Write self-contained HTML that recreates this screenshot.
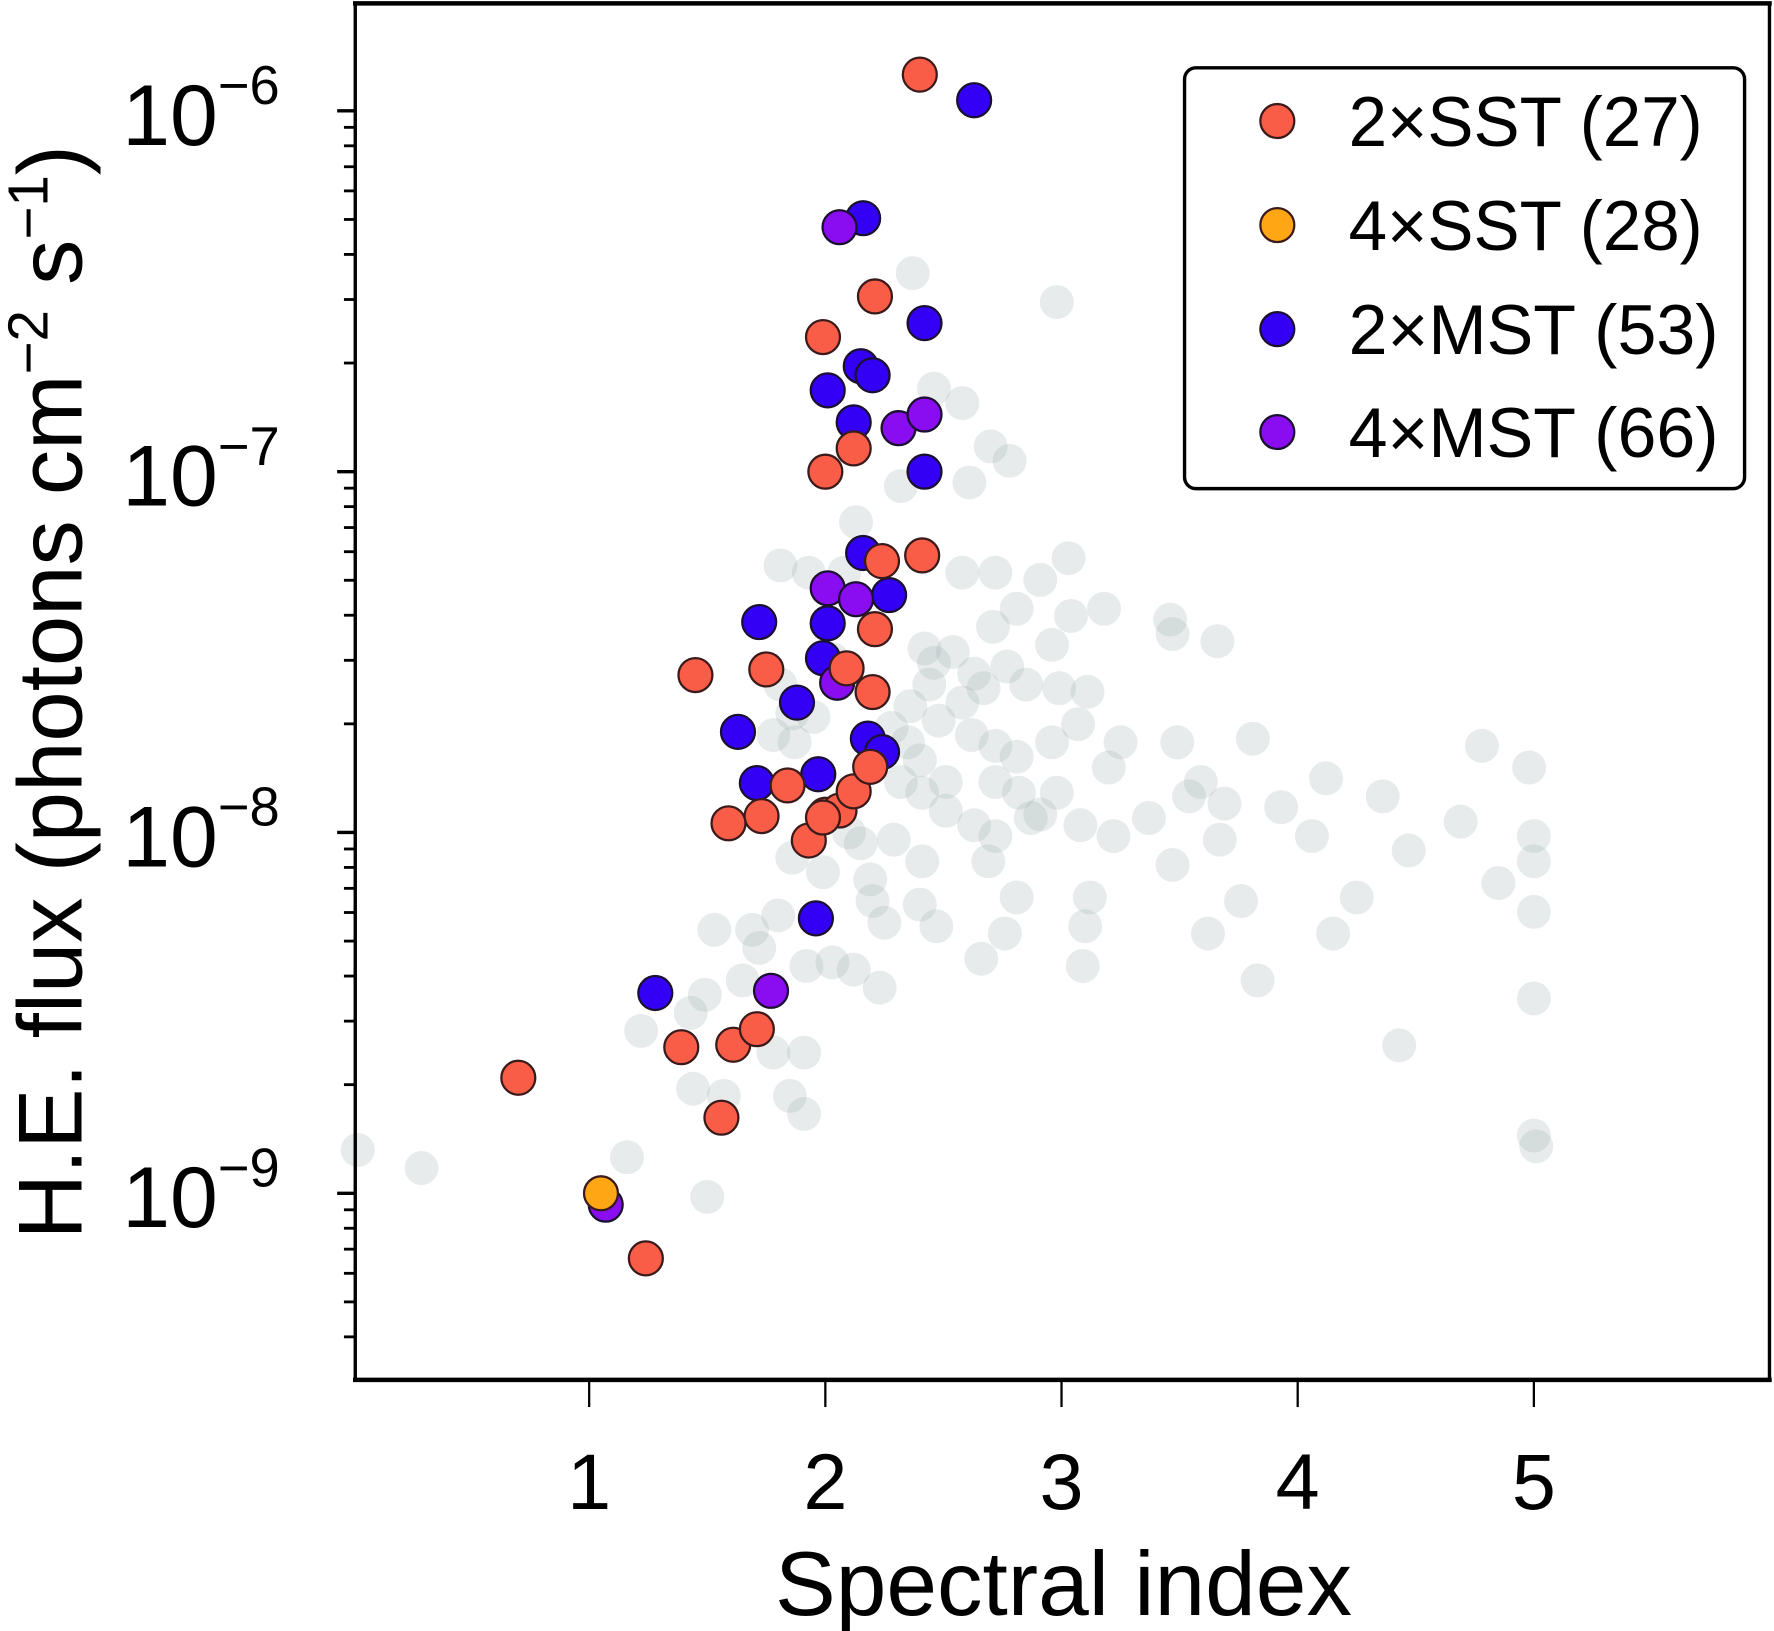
<!DOCTYPE html>
<html><head><meta charset="utf-8"><style>
html,body{margin:0;padding:0;background:#fff}
svg{display:block}
text{font-family:"Liberation Sans",Arial,sans-serif;fill:#000}
</style></head><body>
<svg id="chart" width="1774" height="1631" viewBox="0 0 1568 1442" preserveAspectRatio="none" xmlns="http://www.w3.org/2000/svg">
<g id="gray"></g>
<g id="marks"></g>
<g id="axes"></g>
<g>
<rect x="1047" y="60" width="495" height="372" rx="10" fill="#fff" stroke="#000" stroke-width="3"/>
<g><circle cx="1129" cy="107" r="15" fill="#f95d47" stroke="#3a1a1a" stroke-width="2"/><text x="1192" y="129" font-size="62" textLength="313" lengthAdjust="spacingAndGlyphs">2×SST (27)</text></g>
<g><circle cx="1129" cy="199" r="15" fill="#ffa614" stroke="#3a1a1a" stroke-width="2"/><text x="1192" y="221" font-size="62" textLength="313" lengthAdjust="spacingAndGlyphs">4×SST (28)</text></g>
<g><circle cx="1129" cy="291" r="15" fill="#3300f5" stroke="#1a1030" stroke-width="2"/><text x="1192" y="313" font-size="62" textLength="327" lengthAdjust="spacingAndGlyphs">2×MST (53)</text></g>
<g><circle cx="1129" cy="382" r="15" fill="#8a0cf0" stroke="#1a1030" stroke-width="2"/><text x="1192" y="404" font-size="62" textLength="327" lengthAdjust="spacingAndGlyphs">4×MST (66)</text></g>
</g>
<text x="940" y="1428" font-size="80" text-anchor="middle" textLength="510" lengthAdjust="spacingAndGlyphs">Spectral index</text>
<text transform="translate(72,612) rotate(-90)" font-size="80" text-anchor="middle">H.E. flux (photons cm<tspan font-size="50" dy="-30">−2</tspan><tspan dy="30"> s</tspan><tspan font-size="50" dy="-30">−1</tspan><tspan dy="30">)</tspan></text>
</svg>
<script>
const xTicks=[1,2,3,4,5];
const yDecades=[-6,-7,-8,-9];
const sst2Index=[2.40,2.21,1.99,2.12,2.00,2.41,2.24,2.21,2.20,2.09,1.75,1.45,1.84,1.73,1.59,1.93,2.00,2.06,2.12,2.19,0.70,1.39,1.61,1.71,1.56,1.24,1.99];
const sst2Flux=[1.26e-6,3.06e-7,2.36e-7,1.16e-7,1.0e-7,5.86e-8,5.65e-8,3.66e-8,2.45e-8,2.85e-8,2.83e-8,2.73e-8,1.35e-8,1.11e-8,1.06e-8,9.5e-9,1.12e-8,1.15e-8,1.30e-8,1.52e-8,2.09e-9,2.54e-9,2.58e-9,2.85e-9,1.62e-9,6.6e-10,1.10e-8];
const sst4Index=[1.05];
const sst4Flux=[1.0e-9];
const mst2Index=[2.63,2.16,2.42,2.15,2.20,2.01,2.12,2.42,2.16,2.27,1.72,2.01,1.99,1.88,1.63,2.18,2.24,1.71,1.97,1.96,1.28];
const mst2Flux=[1.07e-6,5.04e-7,2.58e-7,1.96e-7,1.85e-7,1.68e-7,1.37e-7,1.0e-7,5.95e-8,4.55e-8,3.83e-8,3.80e-8,3.04e-8,2.29e-8,1.90e-8,1.82e-8,1.67e-8,1.37e-8,1.45e-8,5.78e-9,3.59e-9];
const mst4Index=[2.06,2.31,2.42,2.01,2.13,2.05,1.77,1.07];
const mst4Flux=[4.76e-7,1.32e-7,1.44e-7,4.75e-8,4.43e-8,2.6e-8,3.64e-9,9.3e-10];
const grayIndex=[2.37,2.98,2.46,2.58,2.70,2.78,2.61,2.32,2.13,1.93,2.08,2.58,2.72,2.91,3.03,3.18,3.46,3.47,3.66,3.04,2.81,2.71,2.96,2.42,2.54,2.63,2.77,2.85,2.99,3.11,2.44,2.36,2.48,2.62,2.72,2.81,2.96,3.07,3.25,3.20,3.49,3.59,3.69,3.81,3.54,3.37,3.67,3.93,4.06,4.12,4.36,4.47,4.69,4.78,4.98,5.00,5.00,4.85,4.25,4.15,3.76,3.62,3.83,3.47,3.22,3.08,2.98,2.87,2.72,2.63,2.51,2.41,2.32,2.40,2.28,2.35,2.15,2.29,2.41,2.69,2.81,2.76,2.47,2.40,2.25,2.20,2.19,1.99,3.12,3.10,3.09,2.66,2.23,2.12,2.03,1.92,1.80,1.69,1.53,1.49,1.43,1.22,1.44,1.57,1.78,1.85,1.91,1.50,1.16,0.29,0.02,5.00,5.00,5.00,5.01,4.43,1.86,2.10,1.81,1.91,1.65,1.72,1.78,1.86,1.95,1.87,2.03,1.81,2.67,2.58,2.46,2.51,2.72,2.82,2.91];
const grayLogFlux=[-6.45,-6.53,-6.77,-6.81,-6.93,-6.97,-7.03,-7.04,-7.14,-7.28,-7.28,-7.28,-7.28,-7.30,-7.24,-7.38,-7.41,-7.45,-7.47,-7.40,-7.38,-7.43,-7.48,-7.49,-7.50,-7.56,-7.54,-7.59,-7.60,-7.61,-7.59,-7.65,-7.69,-7.73,-7.76,-7.79,-7.75,-7.70,-7.75,-7.82,-7.75,-7.86,-7.92,-7.74,-7.90,-7.96,-8.02,-7.93,-8.01,-7.85,-7.90,-8.05,-7.97,-7.76,-7.82,-8.01,-8.08,-8.14,-8.18,-8.28,-8.19,-8.28,-8.41,-8.09,-8.01,-7.98,-7.89,-7.96,-8.01,-7.98,-7.94,-7.89,-7.86,-7.80,-7.71,-7.75,-8.03,-8.02,-8.08,-8.08,-8.18,-8.28,-8.26,-8.20,-8.25,-8.19,-8.13,-8.11,-8.18,-8.26,-8.37,-8.35,-8.43,-8.38,-8.36,-8.37,-8.23,-8.27,-8.27,-8.45,-8.50,-8.55,-8.71,-8.73,-8.61,-8.73,-8.78,-9.01,-8.90,-8.93,-8.88,-8.22,-8.46,-8.84,-8.87,-8.59,-8.07,-8.00,-7.26,-8.61,-8.41,-8.32,-7.73,-7.67,-7.68,-7.75,-7.52,-7.59,-7.60,-7.64,-7.53,-7.86,-7.86,-7.89,-7.95];

const NS='http://www.w3.org/2000/svg';
const L=314,R=1564,T=3,B=1220;
function sx(v){return 312+v*208.75;}
function syLog(lg){return 98+(-6-lg)*319;}
function sy(v){return syLog(Math.log10(v));}
function mk(tag,attrs,parent){const e=document.createElementNS(NS,tag);for(const k in attrs)e.setAttribute(k,attrs[k]);parent.appendChild(e);return e;}

const gray=document.getElementById('gray');
for(let i=0;i<grayIndex.length;i++){
  const c=mk('circle',{cx:sx(grayIndex[i]),cy:syLog(grayLogFlux[i]),r:15,fill:'#a3b0b0','fill-opacity':0.26},gray);
  
  
}
const marks=document.getElementById('marks');
function series(xs,ys,fill,stroke,name){
  for(let i=0;i<xs.length;i++){
    const c=mk('circle',{cx:sx(xs[i]),cy:sy(ys[i]),r:15,fill:fill,stroke:stroke,'stroke-width':2},marks);
    
    
  }
}
series(mst2Index,mst2Flux,'#3300f5','#1a1030','point-2xmst');
series(mst4Index,mst4Flux,'#8a0cf0','#1a1030','point-4xmst');
series(sst2Index,sst2Flux,'#f95d47','#3a1a1a','point-2xsst');
series(sst4Index,sst4Flux,'#ffa614','#3a1a1a','point-4xsst');

const axes=document.getElementById('axes');
mk('line',{x1:L,y1:T,x2:L,y2:B,stroke:'#000','stroke-width':3},axes);
mk('line',{x1:R,y1:T,x2:R,y2:B,stroke:'#000','stroke-width':3},axes);
mk('line',{x1:L-2,y1:T,x2:R+2,y2:T,stroke:'#000','stroke-width':4},axes);
mk('line',{x1:L-2,y1:B,x2:R+2,y2:B,stroke:'#000','stroke-width':4},axes);
xTicks.forEach(t=>{
  mk('line',{x1:sx(t),y1:B,x2:sx(t),y2:B+24,stroke:'#000','stroke-width':2},axes);
  const tx=mk('text',{x:sx(t),y:1334,'font-size':70,'text-anchor':'middle'},axes);
  tx.textContent=t;
  
  
});
for(let d=-10;d<=-6;d++){
  for(let m=1;m<=9;m++){
    const y=syLog(d+Math.log10(m));
    if(y<T||y>B+1)continue;
    mk('line',{x1:L-(m===1?16:10),y1:y,x2:L,y2:y,stroke:'#000','stroke-width':m===1?3:2.5},axes);
  }
}
yDecades.forEach(d=>{
  const tx=mk('text',{x:108,y:syLog(d)+30,'font-size':76},axes);
  
  
  tx.textContent='10';
  const sup=mk('tspan',{dy:-36,'font-size':48},tx);
  sup.textContent='−'+(-d);
});
</script>
</body></html>
